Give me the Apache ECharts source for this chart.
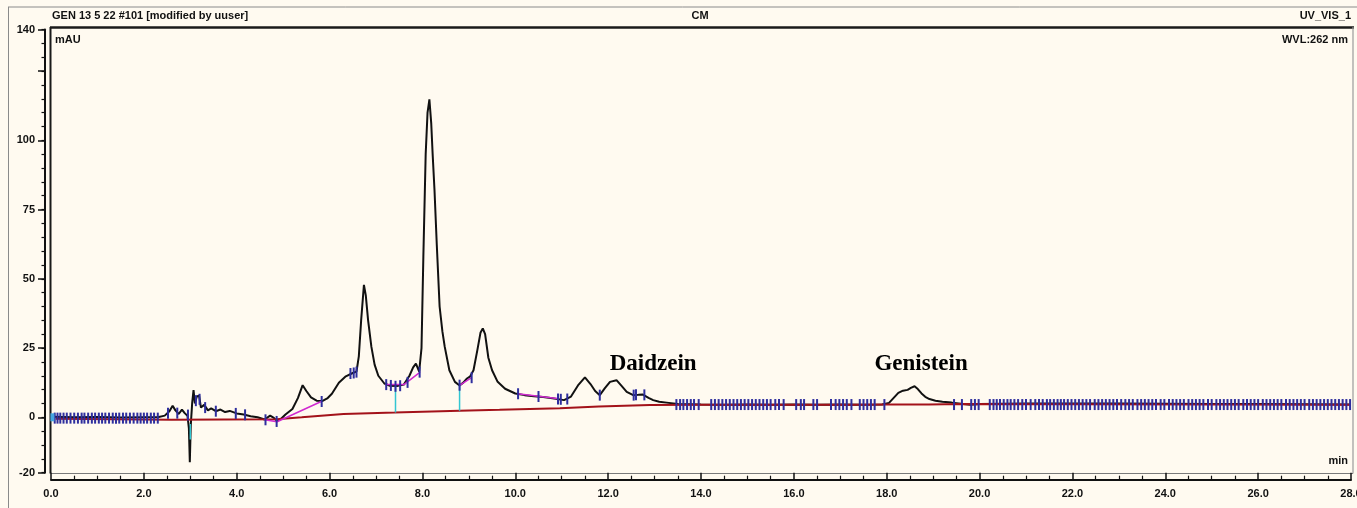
<!DOCTYPE html>
<html>
<head>
<meta charset="utf-8">
<script src="https://cdn.jsdelivr.net/npm/echarts@6/dist/echarts.min.js"></script>
<style>
html,body{margin:0;padding:0;background:#fffaf0;}
#c{width:1357px;height:508px;}
</style>
</head>
<body>
<div id="c"></div>
<script>
// ---- chromatogram trace (retention time in min, absorbance in mAU) ----
const traceT = [0.0,0.5,1.0,1.5,2.0,2.3,2.45,2.55,2.62,2.68,2.75,2.82,2.88,2.94,2.97,2.99,3.01,3.04,3.07,3.1,3.14,3.19,3.23,3.3,3.38,3.45,3.55,3.65,3.75,3.85,4.0,4.15,4.3,4.45,4.6,4.72,4.8,4.87,4.95,5.05,5.2,5.32,5.42,5.5,5.6,5.72,5.85,5.95,6.05,6.2,6.35,6.5,6.58,6.63,6.68,6.74,6.78,6.83,6.9,6.97,7.05,7.18,7.3,7.45,7.6,7.72,7.8,7.86,7.93,7.98,8.02,8.07,8.11,8.15,8.19,8.22,8.26,8.31,8.37,8.43,8.48,8.58,8.7,8.8,8.88,8.96,9.03,9.1,9.18,9.25,9.3,9.35,9.42,9.5,9.62,9.78,10.0,10.2,10.4,10.6,10.8,11.05,11.2,11.35,11.5,11.62,11.72,11.82,11.93,12.04,12.18,12.28,12.4,12.54,12.65,12.75,12.87,12.97,13.1,13.26,13.5,14.0,14.5,15.0,15.5,16.0,16.5,17.0,17.5,17.9,18.05,18.15,18.25,18.35,18.45,18.52,18.6,18.67,18.75,18.83,18.92,19.05,19.2,19.4,19.6,19.8,20.0,20.5,21.0,22.0,23.0,24.0,25.0,26.0,27.0,28.0];
const traceV = [0.2,0.0,0.1,-0.1,0.0,0.0,0.6,2.2,4.2,2.5,1.2,2.8,1.5,0.5,-4,-16.2,-3,5,9.8,5,7.5,7.8,3.5,4.5,2.5,3.2,2.2,2.8,1.9,2.3,1.4,1.0,0.4,0.0,-0.8,0.6,-0.2,-1.4,-0.6,1.0,3.0,7.0,11.6,9.5,7.2,6.0,5.9,6.8,8.5,12.5,14.8,16.0,16.5,22,35,47.8,44,35,25.5,19,15,12.2,11.4,11.3,11.8,15,18,19.4,16.5,25,58,95,110,114.8,106,95,82,62,40,31,25.5,17,12.8,11.5,12.5,14,14.8,17,24,30.5,32.1,30,21.5,17,12.8,10.3,8.6,8.0,7.6,7.3,6.9,6.2,7.5,11.5,14.4,12,9.5,8.0,10.5,12.8,13.4,11.5,9.2,8.0,8.1,8.2,7.0,6.2,5.6,5.3,4.8,4.6,4.5,4.6,4.5,4.6,4.5,4.6,4.5,4.6,5.2,7.0,8.8,9.6,9.9,10.6,11.2,10.2,8.6,7.4,6.6,6.0,5.6,5.3,4.9,4.5,4.8,4.9,5.0,5.0,5.0,4.9,4.8,4.8,4.7,4.6];

// ---- integration baseline (red) ----
const baseT = [0.1,2.6,4.86,5.4,6.3,7.4,8.8,9.66,10.96,11.8,12.9,14.0,17.2,18.0,18.9,19.6,22.0,28.0];
const baseV = [-0.5,-0.9,-0.7,0.0,1.2,1.7,2.4,2.7,3.3,3.9,4.4,4.5,4.5,4.6,4.6,4.8,4.7,4.5];

// ---- magenta peak baselines ----
const skimA_T = [4.6,4.87,5.82];   const skimA_V = [-0.9,-1.6,5.7];
const skimB_T = [7.2,7.6,7.95];    const skimB_V = [11.8,11.8,16.3];
const skimC_T = [8.8,9.05];        const skimC_V = [11.5,14.2];
const skimD_T = [10.05,10.5,10.9]; const skimD_V = [8.5,7.6,6.8];

// ---- cyan drop lines ----
const dropT = [3.0,7.42,8.8];
const dropTop = [-2.4,11.2,11.5];
const dropBottom = [-8.0,1.7,2.4];

// ---- blue peak delimiter marks ----
const markEarlyT = [0.08,0.14,0.2,0.27,0.34,0.42,0.5,0.58,0.66,0.72,0.8,0.88,0.95,1.03,1.1,1.17,1.25,1.33,1.4,1.47,1.55,1.62,1.7,1.78,1.86,1.93,2.0,2.07,2.15,2.22,2.3];
const markEarlyLevel = -0.3;
const markMidT = [2.52,2.72,2.95,3.12,3.2,3.32,3.55,3.98,4.18,4.62,4.86,5.83,6.45,6.52,6.58,7.22,7.32,7.42,7.52,7.68,7.94,8.8,9.06,10.06,10.5,10.92,10.98,11.12,11.82,12.55,12.6,12.78];
const markMidV = [1.5,1.5,0.8,6,6.5,3.5,2.2,1.4,0.9,-0.9,-1.5,5.7,15.8,16,16.3,11.8,11.5,11.2,11.4,12.6,16.3,11.6,14.3,8.5,7.5,6.6,6.5,6.6,8,8,8.1,8.1];
const markLateT = [13.47,13.55,13.62,13.7,13.78,13.85,13.95,14.22,14.3,14.38,14.46,14.54,14.62,14.7,14.78,14.86,14.94,15.02,15.1,15.18,15.26,15.34,15.42,15.5,15.6,15.68,15.78,16.05,16.15,16.22,16.42,16.5,16.8,16.9,16.98,17.06,17.14,17.24,17.42,17.5,17.58,17.66,17.74,17.95,19.45,19.62,19.82,19.9,19.98,20.22,20.3,20.37,20.44,20.52,20.6,20.67,20.75,20.83,20.92,21.0,21.1,21.2,21.28,21.36,21.45,21.52,21.6,21.68,21.75,21.82,21.9,21.98,22.06,22.14,22.22,22.3,22.38,22.48,22.56,22.64,22.72,22.8,22.88,22.96,23.05,23.14,23.22,23.3,23.4,23.48,23.56,23.64,23.72,23.8,23.9,23.98,24.08,24.16,24.24,24.32,24.4,24.5,24.58,24.66,24.74,24.82,24.92,25.0,25.1,25.18,25.26,25.34,25.42,25.5,25.58,25.68,25.76,25.84,25.92,26.0,26.1,26.18,26.26,26.34,26.42,26.5,26.6,26.68,26.76,26.84,26.92,27.0,27.1,27.18,27.26,27.34,27.42,27.5,27.58,27.66,27.74,27.82,27.9,27.98];
const markLateLevel = 4.6;

// ---- annotations ----
const annoNames = ['Daidzein','Genistein'];
const annoT = [12.97,18.74];
const annoV = [19.2,19.2];

// ---- axis labels ----
const yLabelValues = [-20,0,25,50,75,100,140];
const yMajorTicks = [-20,0,25,50,75,100,125,140];

const pairs = (a,b) => a.map((t,i)=>[t,b[i]]);
const font = "'Liberation Sans', Arial, sans-serif";

const chart = echarts.init(document.getElementById('c'), null, {renderer:'canvas'});

const lineSeries = (name, data, color, width, z) => ({
  name, type:'line', data, showSymbol:false, symbol:'none', animation:false,
  lineStyle:{color, width}, z, silent:true
});

const series = [
  lineSeries('trace', pairs(traceT, traceV), '#111111', 2, 3),
  lineSeries('baseline', pairs(baseT, baseV), '#a3121a', 2, 4),
  lineSeries('skimA', pairs(skimA_T, skimA_V), '#d02ad0', 1.5, 5),
  lineSeries('skimB', pairs(skimB_T, skimB_V), '#d02ad0', 1.5, 5),
  lineSeries('skimC', pairs(skimC_T, skimC_V), '#d02ad0', 1.5, 5),
  lineSeries('skimD', pairs(skimD_T, skimD_V), '#d02ad0', 1.5, 5),
];
dropT.forEach((t,i)=>{
  series.push(lineSeries('drop'+i, [[t,dropTop[i]],[t,dropBottom[i]]], '#33c6d2', 1.5, 5));
});
series.push({
  name:'marks', type:'scatter', animation:false, silent:true, z:6,
  symbol:'rect', symbolSize:[2,11],
  itemStyle:{color:'#2e2e9e', opacity:1},
  data: markEarlyT.map(t=>[t,markEarlyLevel])
    .concat(pairs(markMidT, markMidV))
    .concat(markLateT.map(t=>[t,markLateLevel]))
});
series.push({
  name:'startMark', type:'scatter', animation:false, silent:true, z:6,
  symbol:'rect', symbolSize:[4,8], itemStyle:{color:'#45a6e0', opacity:1},
  data:[[0.03,0]]
});
series.push({
  name:'annotations', type:'scatter', animation:false, silent:true, z:7,
  symbolSize:0, itemStyle:{opacity:1},
  data: annoNames.map((n,i)=>({name:n, value:[annoT[i], annoV[i]]})),
  label:{show:true, position:'inside', formatter:p=>p.name, opacity:1,
    fontFamily:"'Liberation Serif','Times New Roman',serif", fontWeight:'bold',
    fontSize:23, color:'#000'}
});

const axisLabelStyle = {color:'#111', fontFamily:font, fontSize:11, fontWeight:'bold'};

chart.setOption({
  backgroundColor:'#fffaf0',
  animation:false,
  grid:{left:51, right:6, top:29.5, bottom:35.3, containLabel:false, outerBoundsMode:'none'},
  xAxis:{
    type:'value', min:0, max:28, interval:2, offset:7,
    axisLine:{show:true, onZero:false, lineStyle:{color:'#111', width:2}},
    axisTick:{show:true, inside:true, length:7, lineStyle:{color:'#111', width:1.5}},
    minorTick:{show:true, splitNumber:4, length:4, lineStyle:{color:'#111', width:1.2}},
    splitLine:{show:false},
    axisLabel:Object.assign({margin:9, formatter:v=>v.toFixed(1), showMaxLabel:true}, axisLabelStyle)
  },
  yAxis:[{
    type:'value', min:-20, max:140, interval:5, offset:6, position:'left',
    axisLine:{show:true, onZero:false, lineStyle:{color:'#111', width:2}},
    axisTick:{show:true, length:3.5, lineStyle:{color:'#111', width:1.2}},
    splitLine:{show:false},
    axisLabel:{show:false}
  },{
    type:'value', min:-20, max:140, interval:5, offset:6, position:'left',
    axisLine:{show:false, onZero:false},
    axisTick:{show:true, length:7, customValues:yMajorTicks, lineStyle:{color:'#111', width:1.5}},
    splitLine:{show:false},
    axisLabel:Object.assign({margin:10, customValues:yLabelValues}, axisLabelStyle)
  }],
  graphic:[
    {type:'line', z:-1, shape:{x1:8, y1:7, x2:1357, y2:7}, style:{stroke:'#8a8a8a', lineWidth:1}},
    {type:'line', z:-1, shape:{x1:8.5, y1:7, x2:8.5, y2:508}, style:{stroke:'#8a8a8a', lineWidth:1}},
    {type:'line', z:-1, shape:{x1:50, y1:27.5, x2:1354, y2:27.5}, style:{stroke:'#1a1a1a', lineWidth:2.5}},
    {type:'line', z:-1, shape:{x1:50.5, y1:27, x2:50.5, y2:473.5}, style:{stroke:'#1a1a1a', lineWidth:2}},
    {type:'line', z:-1, shape:{x1:1353, y1:27, x2:1353, y2:473.5}, style:{stroke:'#9a9a9a', lineWidth:1.2}},
    {type:'line', z:-1, shape:{x1:50, y1:473.5, x2:1353, y2:473.5}, style:{stroke:'#7a7a7a', lineWidth:1.2}},
    {type:'text', x:52, y:16, style:{text:'GEN 13 5 22 #101 [modified by uuser]', fill:'#111', font:'bold 11px '+font, textVerticalAlign:'middle'}},
    {type:'text', x:700, y:16, style:{text:'CM', fill:'#111', font:'bold 11px '+font, textAlign:'center', textVerticalAlign:'middle'}},
    {type:'text', x:1351, y:16, style:{text:'UV_VIS_1', fill:'#111', font:'bold 11px '+font, textAlign:'right', textVerticalAlign:'middle'}},
    {type:'text', x:55, y:40, style:{text:'mAU', fill:'#111', font:'bold 11px '+font, textVerticalAlign:'middle'}},
    {type:'text', x:1348, y:40, style:{text:'WVL:262 nm', fill:'#111', font:'bold 11px '+font, textAlign:'right', textVerticalAlign:'middle'}},
    {type:'text', x:1348, y:461, style:{text:'min', fill:'#111', font:'bold 11px '+font, textAlign:'right', textVerticalAlign:'middle'}}
  ],
  series
});
</script>
</body>
</html>
